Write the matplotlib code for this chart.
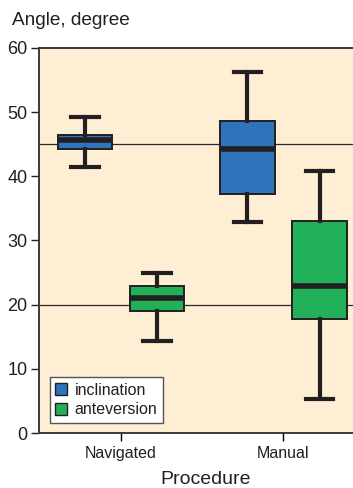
import matplotlib
matplotlib.use("Agg")
import matplotlib.pyplot as plt
from matplotlib.patches import Patch

plt.rcParams['font.family'] = ['Liberation Sans', 'DejaVu Sans']

categories = ["Navigated", "Manual"]
series = ["inclination", "anteversion"]
colors = ["#2E74BA", "#22B159"]
# stats: whislo, q1, med, q3, whishi
inclination = [
    dict(whislo=41.5, q1=44.3, med=45.6, q3=46.5, whishi=49.2),
    dict(whislo=32.9, q1=37.2, med=44.2, q3=48.6, whishi=56.3),
]
anteversion = [
    dict(whislo=14.3, q1=19.0, med=21.0, q3=22.9, whishi=24.9),
    dict(whislo=5.3, q1=17.8, med=22.9, q3=33.1, whishi=40.8),
]
ref_lines = [45, 20]
yticks = [0, 10, 20, 30, 40, 50, 60]

fig = plt.figure(figsize=(3.53, 4.88), dpi=100)
ax = fig.add_axes([0.110, 0.1127, 0.89, 0.789])
ax.set_facecolor("#FEEFD4")

for y in ref_lines:
    ax.axhline(y, color="#2a2a2a", lw=0.9, zorder=1)

dark = "#231F20"
offsets = [-0.22, 0.225]
for s, (data, col, off) in enumerate(zip([inclination, anteversion], colors, offsets)):
    stats = []
    for d, name in zip(data, categories):
        dd = dict(d)
        dd['label'] = name
        stats.append(dd)
    pos = [i + off for i in range(len(categories))]
    ax.bxp(stats, positions=pos, widths=0.335, showfliers=False, patch_artist=True,
           boxprops=dict(facecolor=col, edgecolor=dark, linewidth=1.4),
           medianprops=dict(color=dark, linewidth=4, solid_capstyle='butt'),
           whiskerprops=dict(color=dark, linewidth=3),
           capprops=dict(color=dark, linewidth=3),
           capwidths=0.17, zorder=3, manage_ticks=False)

ax.set_xlim(-0.503, 1.43)
ax.set_ylim(0, 60)
ax.set_yticks(yticks)
ax.set_xticks(range(len(categories)))
ax.set_xticklabels(categories, fontsize=11.5, color="#231F20")
ax.tick_params(axis='y', labelsize=13, colors="#231F20", length=6, width=1, pad=2)
ax.tick_params(axis='x', length=6, width=1, pad=3, direction='out')
for sp in ['left', 'bottom', 'top']:
    ax.spines[sp].set_color("#3a3a3a")
    ax.spines[sp].set_linewidth(1.4)
ax.spines['right'].set_visible(False)

fig.text(0.583, 0.009, "Procedure", fontsize=14, ha='center', va='baseline', color="#231F20")
fig.text(0.034, 0.958, "Angle, degree", fontsize=13.7, ha='left', va='center', color="#231F20")

handles = [Patch(facecolor=c, edgecolor=dark, linewidth=1, label=l) for c, l in zip(colors, series)]
leg = ax.legend(handles=handles, loc='lower left', bbox_to_anchor=(0.035, 0.026), borderaxespad=0,
                fontsize=11.5, frameon=True, fancybox=False, edgecolor="#555555", framealpha=1,
                handlelength=0.75, handleheight=0.75, handletextpad=0.45, borderpad=0.35,
                labelspacing=0.3)
leg.get_frame().set_linewidth(1)
for t in leg.get_texts():
    t.set_color("#231F20")

fig.savefig("out.png", dpi=100)
